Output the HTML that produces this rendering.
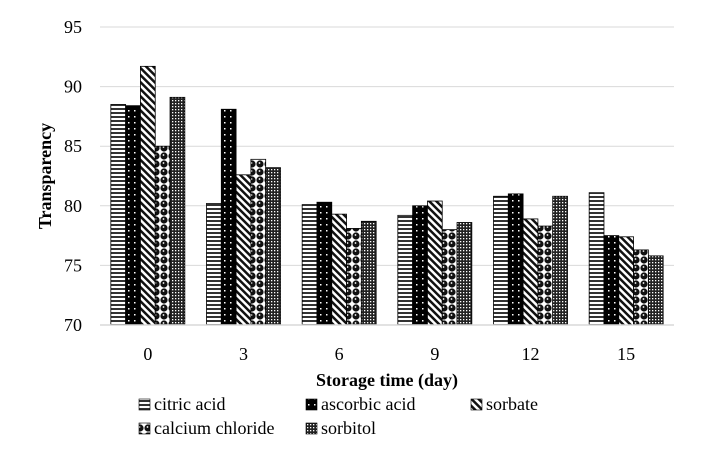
<!DOCTYPE html>
<html><head><meta charset="utf-8"><style>
body{margin:0;background:#fff;}
svg text{font-family:"Liberation Serif",serif;}
</style></head><body>
<svg id="c" width="706" height="451" xmlns="http://www.w3.org/2000/svg">
<defs>
<pattern id="p0" width="4" height="4" patternUnits="userSpaceOnUse"><rect width="4" height="4" fill="#fff"/><rect width="4" height="2" fill="#333"/></pattern>
<pattern id="p1" width="6" height="6" patternUnits="userSpaceOnUse"><rect width="6" height="6" fill="#000"/><rect x="2" y="2" width="1.5" height="1.5" fill="#fff"/></pattern>
<pattern id="p2" width="5" height="5" patternUnits="userSpaceOnUse" patternTransform="rotate(-45)"><rect width="5" height="5" fill="#fff"/><rect width="2.5" height="5" fill="#111"/></pattern>
<pattern id="p3" width="8" height="8" patternUnits="userSpaceOnUse"><rect width="8" height="8" fill="#fff"/><circle cx="4" cy="4" r="3.6" fill="#111"/><circle cx="3.5" cy="3" r="0.9" fill="#fff"/></pattern>
<pattern id="p4" width="3" height="3" patternUnits="userSpaceOnUse"><rect width="3" height="3" fill="#222"/><rect x="1" y="1" width="1.3" height="1.3" fill="#fff"/></pattern>
</defs>
<g id="g"></g>
</svg>
<script>
const categories=["0","3","6","9","12","15"];
const citric=[88.5,80.2,80.1,79.2,80.8,81.1];
const ascorbic=[88.4,88.1,80.3,80.0,81.0,77.5];
const sorbate=[91.7,82.6,79.3,80.4,78.9,77.4];
const calcium=[85.0,83.9,78.1,78.0,78.3,76.3];
const sorbitol=[89.1,83.2,78.7,78.6,80.8,75.8];
const seriesNames=["citric acid","ascorbic acid","sorbate","calcium chloride","sorbitol"];
const yTicks=[70,75,80,85,90,95];
const series=[citric,ascorbic,sorbate,calcium,sorbitol];
const NS="http://www.w3.org/2000/svg";
const g=document.getElementById('g');
const L=100,R=674,T=27,B=325,ymin=70,ymax=95;
const y=v=>B-(v-ymin)/(ymax-ymin)*(B-T);
const step=(R-L)/categories.length;
const xc=i=>L+step*(i+0.5);
const bw=14.8;
const FF='Liberation Serif, serif';
function mk(t,a){const e=document.createElementNS(NS,t);for(const k in a)e.setAttribute(k,a[k]);if(t==='text')e.setAttribute('font-family',FF);g.appendChild(e);return e;}
yTicks.forEach(v=>{
 const l=mk('line',{x1:L,x2:R,y1:y(v),y2:y(v),stroke:'#d9d9d9','stroke-width':1});
 
 
 const t=mk('text',{x:82,y:y(v)+6,'text-anchor':'end','font-size':18});
 t.textContent=v;
 
 
});
categories.forEach((c,i)=>{
 series.forEach((s,j)=>{
  const x=xc(i)-2.5*bw+j*bw;
  const r=mk('rect',{x:x,y:y(s[i]),width:bw,height:B-y(s[i]),fill:'url(#p'+j+')',stroke:'#000','stroke-width':0.8});
  
  
 });
 const t=mk('text',{x:xc(i),y:360,'text-anchor':'middle','font-size':18});
 t.textContent=c;
 
 
});
const ax=mk('line',{x1:L,x2:R,y1:B,y2:B,stroke:'#d9d9d9','stroke-width':1.5});


const xt=mk('text',{x:387,y:386,'text-anchor':'middle','font-size':18,'font-weight':'bold'});
xt.textContent='Storage time (day)';


const yt=mk('text',{x:0,y:0,'text-anchor':'middle','font-size':18,'font-weight':'bold',transform:'translate(51,176) rotate(-90)'});
yt.textContent='Transparency';


const lpos=[[139,410],[306,410],[471,410],[139,434],[306,434]];
seriesNames.forEach((n,j)=>{
 const [lx,ly]=lpos[j];
 const r=mk('rect',{x:lx,y:ly-11,width:11,height:11,fill:'url(#p'+j+')',stroke:'#000','stroke-width':0.6});
 
 
 const t=mk('text',{x:lx+15,y:ly,'font-size':18});
 t.textContent=n;
 
 
});
</script>
</body></html>
